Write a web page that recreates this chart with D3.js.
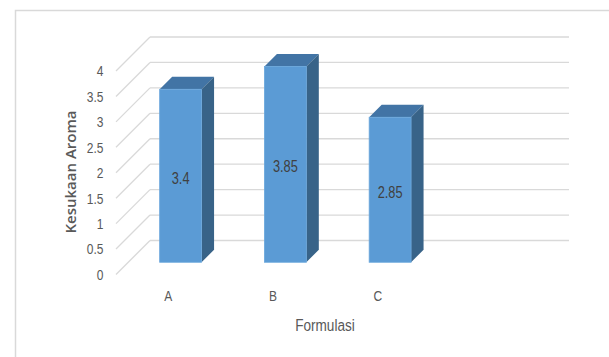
<!DOCTYPE html>
<html>
<head>
<meta charset="utf-8">
<script src="https://cdn.jsdelivr.net/npm/d3@7"></script>
<style>
  html, body { margin: 0; padding: 0; background: #fff; }
  svg { display: block; }
</style>
</head>
<body>
<svg id="chart" width="609" height="357"></svg>
<script>
// Chart data
const categories = ["A", "B", "C", ""];
const values = [3.4, 3.85, 2.85];
const yTicks = [0, 0.5, 1, 1.5, 2, 2.5, 3, 3.5, 4];
const yTickLabels = ["0", "0.5", "1", "1.5", "2", "2.5", "3", "3.5", "4"];
const xTitle = "Formulasi";
const yTitle = "Kesukaan Aroma";

const svg = d3.select("#chart");
const sans = "'Liberation Sans', Arial, sans-serif";
const SQUEEZE = 0.8;   // horizontal condensing of label glyphs

// Places a condensed text label anchored at (px, py)
function label(parent, px, py, txt, size, color, anchor) {
  return parent.append("text")
    .attr("transform", `translate(${px},${py}) scale(${SQUEEZE},1)`)
    .attr("dy", "0.36em")
    .attr("text-anchor", anchor)
    .attr("font-family", sans)
    .attr("font-size", size)
    .attr("fill", color)
    .text(txt);
}

// Outer chart frame
svg.append("rect")
  .attr("x", 15.5).attr("y", 10.5)
  .attr("width", 620).attr("height", 360)
  .attr("fill", "none").attr("stroke", "#d9d9d9").attr("stroke-width", 1.5);

// Front plane scales; depth shifts points up and to the right
const x = d3.scaleBand().domain(categories).range([116, 535]);
const y = d3.scaleLinear().domain([0, 4]).range([274.5, 71]);
const DEPTH = 34;               // full depth offset of the back wall
const barDepth0 = 0.36;         // bar front face position along depth
const barDepth = 12.5;          // bar thickness offset

// Side wall diagonals and back wall gridlines
const grid = svg.append("g").attr("stroke", "#d9d9d9").attr("stroke-width", 1.3).attr("fill", "none");
yTicks.forEach(t => {
  const yf = y(t);
  grid.append("line")
    .attr("x1", x.range()[0]).attr("y1", yf)
    .attr("x2", x.range()[0] + DEPTH).attr("y2", yf - DEPTH);
  grid.append("line")
    .attr("x1", x.range()[0] + DEPTH).attr("y1", yf - DEPTH)
    .attr("x2", x.range()[1] + DEPTH).attr("y2", yf - DEPTH);
});

// Y tick labels
const yLab = svg.append("g");
yTicks.forEach((t, i) => label(yLab, 103.5, y(t), yTickLabels[i], 15, "#595959", "end"));

// 3D bars
const bw = x.bandwidth() * 0.4;
const off = DEPTH * barDepth0;
const bars = svg.append("g");
values.forEach((v, i) => {
  const cat = categories[i];
  const x0 = x(cat) + (x.bandwidth() - bw) / 2 + off;
  const x1 = x0 + bw;
  const yb = y(0) - off;
  const yt = y(v) - off;
  const d = barDepth;
  // top
  bars.append("path")
    .attr("d", `M${x0},${yt} L${x1},${yt} L${x1 + d},${yt - d} L${x0 + d},${yt - d} Z`)
    .attr("fill", "#4274a5");
  // side
  bars.append("path")
    .attr("d", `M${x1},${yt} L${x1 + d},${yt - d} L${x1 + d},${yb - d} L${x1},${yb} Z`)
    .attr("fill", "#386388");
  // front
  bars.append("rect")
    .attr("x", x0).attr("y", yt)
    .attr("width", bw).attr("height", yb - yt)
    .attr("fill", "#5b9bd5")
    .attr("stroke", "#6aa7dc").attr("stroke-width", 0.8);
  // value label
  label(bars, x0 + bw / 2, (yt + yb) / 2 + 2, String(v), 16, "#404040", "middle");
});

// Category labels
const xLab = svg.append("g");
categories.filter(c => c !== "").forEach(c =>
  label(xLab, x(c) + x.bandwidth() / 2, 296, c, 15, "#595959", "middle"));

// Axis titles
label(svg, 325, 325, xTitle, 17, "#595959", "middle");

svg.append("text")
  .attr("transform", "translate(71,172) rotate(-90)")
  .attr("dy", "0.36em")
  .attr("text-anchor", "middle")
  .attr("font-family", "'Open Sans', 'Liberation Sans', sans-serif")
  .attr("font-weight", 600)
  .attr("font-size", 15)
  .attr("fill", "#595959")
  .text(yTitle);
</script>
</body>
</html>
